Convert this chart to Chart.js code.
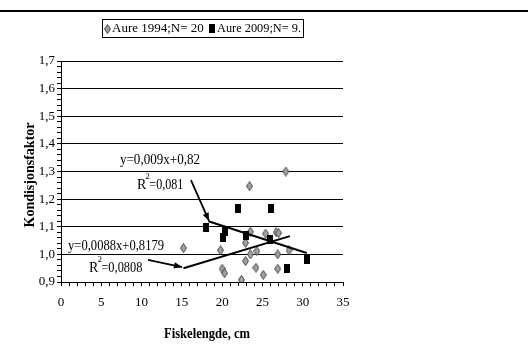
<!DOCTYPE html>
<html><head><meta charset="utf-8">
<script src="https://cdn.jsdelivr.net/npm/chart.js@4/dist/chart.umd.min.js"></script>
<style>html,body{margin:0;padding:0;background:#fff;}canvas{display:block;}</style>
</head><body>
<canvas id="c" width="528" height="344"></canvas>
<script>
// ---- data ----
const aure1994X = [27.9, 23.4, 15.2, 19.8, 23.5, 22.9, 23.5, 24.3, 22.9, 24.2, 26.9, 28.3, 20.0, 20.3, 22.4, 25.1, 26.9, 25.4, 26.7, 27.0];
const aure1994Y = [1.300, 1.247, 1.023, 1.015, 1.082, 1.042, 1.000, 1.012, 0.976, 0.952, 1.000, 1.015, 0.948, 0.932, 0.908, 0.926, 0.948, 1.075, 1.080, 1.077];
const aure2009X = [22.0, 26.05, 18.0, 20.4, 20.1, 23.0, 26.0, 30.5, 28.0];
const aure2009Y = [1.166, 1.166, 1.097, 1.084, 1.060, 1.069, 1.054, 0.980, 0.950];
const trend1994X = [15.2, 28.4];
const trend1994Y = [0.950, 1.066];
const trend2009X = [18.3, 30.5];
const trend2009Y = [1.120, 1.005];
const yTickLabels = ['0,9','1,0','1,1','1,2','1,3','1,4','1,5','1,6','1,7'];
const seriesNames = ['Aure 1994;N= 20', 'Aure 2009;N= 9.'];
const eqTexts = ['y=0,009x+0,82', '=0,081', 'y=0,0088x+0,8179', '=0,0808'];
const xTitle = 'Fiskelengde, cm';
const yTitle = 'Kondisjonsfaktor';

const SERIF = '"Liberation Serif", "Times New Roman", serif';

function makeDiamond(){
  const c = document.createElement('canvas'); c.width = 7; c.height = 10;
  const g = c.getContext('2d');
  g.beginPath(); g.moveTo(3.5,0.5); g.lineTo(6.5,5); g.lineTo(3.5,9.5); g.lineTo(0.5,5); g.closePath();
  g.fillStyle = '#a0a0a0'; g.fill(); g.strokeStyle = '#4a4a4a'; g.lineWidth = 1; g.stroke();
  return c;
}
function makeSquare(){
  const c = document.createElement('canvas'); c.width = 6; c.height = 9;
  const g = c.getContext('2d'); g.fillStyle = '#000'; g.fillRect(0,0,6,9);
  return c;
}
const diamondImg = makeDiamond();
const squareImg = makeSquare();

function pts(xs, ys){ return xs.map((x,i)=>({x:x, y:ys[i]})); }
function isMajor(v){ const r = Math.round(v*50); return Math.abs(v*50 - r) < 1e-4 && r % 5 === 0; }

function arrow(ctx, x1,y1,x2,y2){
  ctx.beginPath(); ctx.moveTo(x1,y1); ctx.lineTo(x2,y2); ctx.lineWidth = 1.8; ctx.strokeStyle='#000'; ctx.stroke();
  const a = Math.atan2(y2-y1, x2-x1), L = 8, W = 3.2;
  ctx.beginPath();
  ctx.moveTo(x2,y2);
  ctx.lineTo(x2 - L*Math.cos(a) + W*Math.sin(a), y2 - L*Math.sin(a) - W*Math.cos(a));
  ctx.lineTo(x2 - L*Math.cos(a) - W*Math.sin(a), y2 - L*Math.sin(a) + W*Math.cos(a));
  ctx.closePath(); ctx.fillStyle='#000'; ctx.fill();
}
function rsq(ctx, x, y, rest, restW){
  ctx.font = '14px ' + SERIF; ctx.textAlign='left'; ctx.textBaseline='middle';
  ctx.fillText('R', x, y);
  const w = ctx.measureText('R').width;
  ctx.font = '9px ' + SERIF; ctx.fillText('2', x + w - 1, y - 8);
  ctx.font = '14px ' + SERIF; ctx.fillText(rest, x + w + 3, y, restW);
}

const decor = {
  id: 'decor',
  afterDraw(chart){
    const ctx = chart.ctx, xs = chart.scales.x, ys = chart.scales.y;
    ctx.save();
    ctx.fillStyle = '#000';
    // top rule
    ctx.fillRect(0, 10, 528, 2);
    // legend box
    ctx.lineWidth = 1; ctx.strokeStyle = '#000';
    ctx.strokeRect(102.5, 19.5, 201, 18);
    ctx.drawImage(diamondImg, 104, 24);
    ctx.font = '13px ' + SERIF; ctx.textBaseline = 'middle'; ctx.textAlign = 'left';
    ctx.fillStyle = '#000';
    ctx.fillText(seriesNames[0], 112, 29, 94);
    ctx.drawImage(squareImg, 209, 24);
    ctx.fillText(seriesNames[1], 217, 29, 84);
    // axis titles
    ctx.font = 'bold 14px ' + SERIF; ctx.textAlign = 'center';
    ctx.fillText(xTitle, 207, 334, 86);
    ctx.save(); ctx.translate(30, 175); ctx.rotate(-Math.PI/2);
    ctx.fillText(yTitle, 0, 0, 110); ctx.restore();
    // equations
    ctx.font = '14px ' + SERIF; ctx.textAlign = 'left';
    ctx.fillText(eqTexts[0], xs.getPixelForValue(7.32), ys.getPixelForValue(1.342), 80);
    rsq(ctx, xs.getPixelForValue(9.43), ys.getPixelForValue(1.251), eqTexts[1], 34);
    ctx.font = '14px ' + SERIF;
    ctx.fillText(eqTexts[2], xs.getPixelForValue(0.87), ys.getPixelForValue(1.030), 96);
    rsq(ctx, xs.getPixelForValue(3.48), ys.getPixelForValue(0.951), eqTexts[3], 41);
    // arrows
    arrow(ctx, xs.getPixelForValue(16.13), ys.getPixelForValue(1.269), xs.getPixelForValue(18.37), ys.getPixelForValue(1.121));
    arrow(ctx, xs.getPixelForValue(10.8), ys.getPixelForValue(0.980), xs.getPixelForValue(15.02), ys.getPixelForValue(0.954));
    ctx.restore();
  }
};

new Chart(document.getElementById('c'), {
  type: 'scatter',
  data: {
    datasets: [
      { label: seriesNames[0], data: pts(aure1994X, aure1994Y), pointStyle: diamondImg, pointRadius: 5, order: 2 },
      { label: seriesNames[1], data: pts(aure2009X, aure2009Y), pointStyle: squareImg, pointRadius: 5, order: 1 },
      { label: 't1', data: pts(trend1994X, trend1994Y), showLine: true, pointRadius: 0, borderColor: '#000', borderWidth: 2, order: 0 },
      { label: 't2', data: pts(trend2009X, trend2009Y), showLine: true, pointRadius: 0, borderColor: '#000', borderWidth: 2, order: 0 }
    ]
  },
  options: {
    responsive: false, animation: false, devicePixelRatio: 1,
    layout: { padding: { left: 0, top: 61, right: 185, bottom: 0 } },
    plugins: { legend: { display: false }, tooltip: { enabled: false } },
    scales: {
      x: {
        type: 'linear', min: 0, max: 35,
        afterFit(s){ s.height = 62; },
        ticks: { stepSize: 1, autoSkip: false, maxRotation: 0, padding: 9, color: '#000',
          font: { family: SERIF, size: 13 },
          callback: v => (Math.round(v) % 5 === 0 ? String(Math.round(v)) : '') },
        grid: { drawOnChartArea: false, tickLength: 4, tickColor: '#000', tickWidth: 1 },
        border: { color: '#000', width: 1 }
      },
      y: {
        type: 'linear', min: 0.9, max: 1.7,
        afterFit(s){ s.width = 61; },
        ticks: { stepSize: 0.02, autoSkip: false, padding: 2, color: '#000',
          font: { family: SERIF, size: 13 },
          callback: v => isMajor(v) ? yTickLabels[Math.round(v*10) - 9] : '' },
        grid: { color: c => (c.tick && isMajor(c.tick.value)) ? '#000' : 'rgba(0,0,0,0)',
          tickColor: '#000', tickLength: 4, lineWidth: 1 },
        border: { color: '#000', width: 1 }
      }
    }
  },
  plugins: [decor]
});
</script>
</body></html>
